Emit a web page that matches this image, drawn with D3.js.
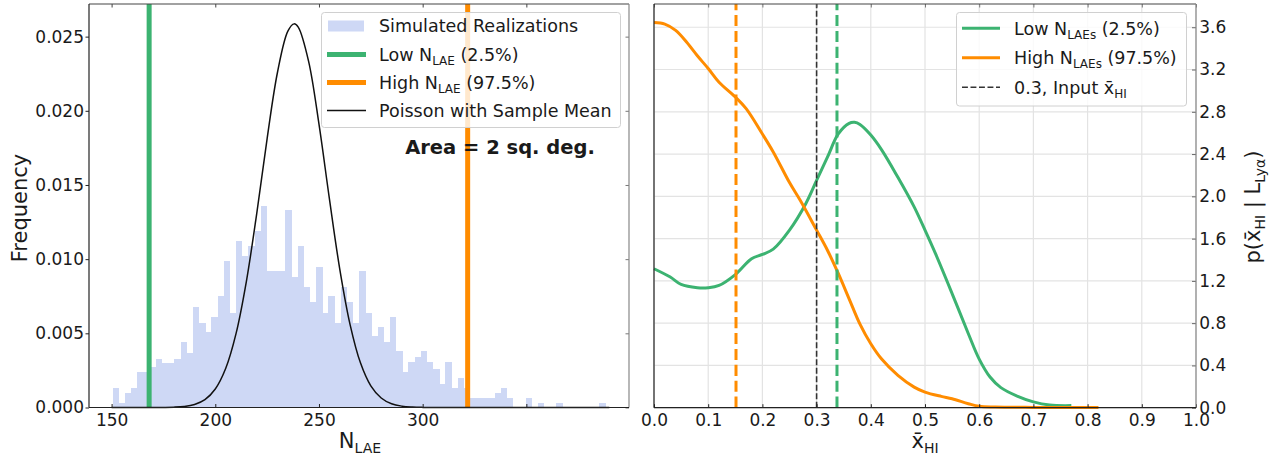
<!DOCTYPE html>
<html><head><meta charset="utf-8">
<script src="https://cdn.jsdelivr.net/npm/d3@7"></script>
<style>
body{margin:0;background:#fff}
svg{display:block}
text{font-family:"DejaVu Sans",sans-serif;fill:#1a1a1a}
</style>
</head><body>
<svg id="c" width="1270" height="458"></svg>
<script>
// ---------------- DATA ----------------
// Left panel: histogram of simulated N_LAE realizations (density)
const histBinStart = 150.6;
const histBinWidth = 2.97;
const histFreq = [0.0013,0.0003,0.0010,0.0013,0.0024,0.0024,0.0027,0.0033,0.0030,0.0030,
  0.0033,0.0044,0.0037,0.0068,0.0057,0.0051,0.0061,0.0075,0.0099,0.0064,
  0.0112,0.0102,0.0109,0.0119,0.0136,0.0092,0.0092,0.0092,0.0133,0.0088,
  0.0109,0.0081,0.0071,0.0095,0.0064,0.0075,0.0057,0.0081,0.0071,0.0057,
  0.0092,0.0064,0.0048,0.0054,0.0044,0.0061,0.0038,0.0024,0.0031,0.0034,
  0.0038,0.0031,0.0026,0.0016,0.0031,0.0013,0.0020,0.0013,0.00065,0.00065,
  0.00065,0.00065,0.0010,0.0013,0.00065,0,0,0.00065,0,0.0003,
  0,0,0.0003,0,0,0,0,0,0,0.0003];
// Poisson with sample mean
const poissonN = [150,160,170,175,180,185,190,195,200,205,210,215,220,225,230,235,238,240,245,250,255,260,265,270,275,280,285,290,295,300,310,320,340,360,390];
const poissonP = [0,0,0,0.000006,0.000022,0.000071,0.000205,0.00053,0.00125,0.00263,0.00498,0.00851,0.01309,0.01813,0.0226,0.02537,0.02586,0.02564,0.02333,0.0191,0.0141,0.00935,0.00559,0.00301,0.00146,0.00064,0.00025,0.00009,0.00003,0.000008,0,0,0,0,0];
const lowNLAE = 168.1;
const highNLAE = 321.7;
const leftXTicks = [150,200,250,300,350];
const leftXTickLabels = ["150","200","250","300",""];
const leftYTicks = [0,0.005,0.010,0.015,0.020,0.025];
const leftYTickLabels = ["0.000","0.005","0.010","0.015","0.020","0.025"];

// Right panel: posterior p(xHI | L_Lya)
const lowX = [0,0.03,0.05,0.08,0.10,0.12,0.15,0.18,0.20,0.22,0.25,0.28,0.30,0.32,0.34,0.36,0.37,0.38,0.40,0.42,0.45,0.48,0.50,0.52,0.55,0.58,0.60,0.62,0.64,0.67,0.70,0.73,0.77];
const lowP = [1.315,1.236,1.166,1.135,1.135,1.157,1.26,1.41,1.45,1.50,1.68,1.93,2.15,2.37,2.59,2.69,2.70,2.68,2.58,2.44,2.18,1.90,1.68,1.45,1.08,0.70,0.46,0.29,0.19,0.11,0.055,0.025,0.02];
const highX = [0,0.02,0.04,0.06,0.08,0.10,0.12,0.15,0.17,0.20,0.22,0.25,0.27,0.30,0.32,0.34,0.36,0.38,0.40,0.42,0.45,0.48,0.50,0.53,0.55,0.58,0.60,0.63,0.70,0.82];
const highP = [3.645,3.63,3.57,3.46,3.33,3.21,3.08,2.94,2.83,2.59,2.42,2.13,1.96,1.68,1.49,1.27,1.03,0.79,0.605,0.46,0.306,0.195,0.148,0.107,0.085,0.038,0.013,0.006,0.003,0.003];
const lowXHI = 0.3376;
const highXHI = 0.1513;
const inputXHI = 0.3;
const rightXTicks = [0,0.1,0.2,0.3,0.4,0.5,0.6,0.7,0.8,0.9,1.0];
const rightXTickLabels = ["0.0","0.1","0.2","0.3","0.4","0.5","0.6","0.7","0.8","0.9","1.0"];
const rightYTicks = [0,0.4,0.8,1.2,1.6,2.0,2.4,2.8,3.2,3.6];
const rightYTickLabels = ["0.0","0.4","0.8","1.2","1.6","2.0","2.4","2.8","3.2","3.6"];

// ---------------- STYLE ----------------
const GREEN = "#3cb371", ORANGE = "#ff8c00", HISTC = "#ced8f5";
const svg = d3.select("#c");

// text with subscripts; no empty tspans
function rich(sel, parts, base, subSize, shift){
  let pending = 0;
  parts.forEach(p=>{
    if (typeof p === "string") {
      const ts = sel.append("tspan").attr("font-size", base).text(p);
      if (pending) { ts.attr("dy", pending); pending = 0; }
    } else {
      sel.append("tspan").attr("font-size", subSize).attr("dy", shift + pending).text(p.sub);
      pending = -shift;
    }
  });
}

// ================= LEFT PANEL =================
const L = {x0:89, x1:629, y0:4, y1:407.5};
const xL = d3.scaleLinear().domain([139.1, 399.5]).range([L.x0, L.x1]);
const yL = d3.scaleLinear().domain([0, 0.0272]).range([L.y1, L.y0]);
const gL = svg.append("g");

// histogram
gL.append("g").selectAll("rect").data(histFreq).join("rect")
  .attr("x", (d,i)=>xL(histBinStart + i*histBinWidth))
  .attr("width", (d,i)=>xL(histBinStart+(i+1)*histBinWidth)-xL(histBinStart+i*histBinWidth)+0.3)
  .attr("y", d=>yL(d))
  .attr("height", d=>yL(0)-yL(d))
  .attr("fill", HISTC).attr("shape-rendering","crispEdges");

// vertical lines
gL.append("line").attr("x1",xL(lowNLAE)).attr("x2",xL(lowNLAE)).attr("y1",L.y0).attr("y2",L.y1)
  .attr("stroke",GREEN).attr("stroke-width",5);
gL.append("line").attr("x1",xL(highNLAE)).attr("x2",xL(highNLAE)).attr("y1",L.y0).attr("y2",L.y1)
  .attr("stroke",ORANGE).attr("stroke-width",5);

// poisson curve
const pts = poissonN.map((n,i)=>[n, poissonP[i]]);
gL.append("path").datum(pts)
  .attr("d", d3.line().x(d=>xL(d[0])).y(d=>yL(d[1])).curve(d3.curveCatmullRom.alpha(0.5)))
  .attr("fill","none").attr("stroke","#111").attr("stroke-width",1.5);

// axes
const axLB = d3.axisBottom(xL).tickValues(leftXTicks).tickFormat((d,i)=>leftXTickLabels[i]).tickSize(-3.5).tickPadding(6.5);
const axLT = d3.axisTop(xL).tickValues(leftXTicks).tickFormat("").tickSize(-3.5);
const axLL = d3.axisLeft(yL).tickValues(leftYTicks).tickFormat((d,i)=>leftYTickLabels[i]).tickSize(3.5).tickPadding(1.5);
const axLR = d3.axisRight(yL).tickValues(leftYTicks).tickFormat("").tickSize(-3.5);
function styleAxis(g, col){
  g.select(".domain").remove();
  g.selectAll("line").attr("stroke", col||"#222").attr("stroke-width",1);
  g.selectAll("text").filter(function(){ return this.textContent === ""; }).remove();
  g.selectAll("text").attr("font-size",17).attr("font-family","DejaVu Sans").attr("fill","#1a1a1a");
}
gL.append("g").attr("transform",`translate(0,${L.y1})`).call(axLB).call(g=>styleAxis(g));
gL.append("g").attr("transform",`translate(0,${L.y0})`).call(axLT).call(g=>styleAxis(g,"#444"));
gL.append("g").attr("transform",`translate(${L.x0},0)`).call(axLL).call(g=>styleAxis(g));
gL.append("g").attr("transform",`translate(${L.x1},0)`).call(axLR).call(g=>styleAxis(g,"#777"));

// frame
gL.append("line").attr("x1",L.x0).attr("x2",L.x1).attr("y1",L.y0).attr("y2",L.y0).attr("stroke","#444").attr("stroke-width",1.2);
gL.append("line").attr("x1",L.x1).attr("x2",L.x1).attr("y1",L.y0).attr("y2",L.y1).attr("stroke","#888").attr("stroke-width",1.2);
gL.append("line").attr("x1",L.x0).attr("x2",L.x0).attr("y1",L.y0).attr("y2",L.y1).attr("stroke","#222").attr("stroke-width",1.2);
gL.append("line").attr("x1",L.x0).attr("x2",L.x1).attr("y1",L.y1).attr("y2",L.y1).attr("stroke","#222").attr("stroke-width",1.2);

// axis labels
gL.append("text").attr("transform","translate(20,208) rotate(-90)").attr("text-anchor","middle")
  .attr("dy","0.35em").attr("font-size",21).text("Frequency");
{
  const t = gL.append("text").attr("x",360).attr("y",448).attr("text-anchor","middle").attr("font-size",21);
  rich(t, ["N",{sub:"LAE"}], 21, 14, 5);
}

// legend
{
  const lg = gL.append("g");
  lg.append("rect").attr("x",321.5).attr("y",12.5).attr("width",299).attr("height",115).attr("rx",3)
    .attr("fill","#fff").attr("fill-opacity",0.8).attr("stroke","#d0d0d0");
  const rows = [26, 54.5, 82.5, 110.5];
  lg.append("rect").attr("x",328).attr("y",rows[0]-5.5).attr("width",36).attr("height",11).attr("fill",HISTC);
  lg.append("line").attr("x1",327).attr("x2",366).attr("y1",rows[1]).attr("y2",rows[1]).attr("stroke",GREEN).attr("stroke-width",5);
  lg.append("line").attr("x1",327).attr("x2",366).attr("y1",rows[2]).attr("y2",rows[2]).attr("stroke",ORANGE).attr("stroke-width",5);
  lg.append("line").attr("x1",327).attr("x2",366).attr("y1",rows[3]).attr("y2",rows[3]).attr("stroke","#111").attr("stroke-width",1.5);
  const labels = [["Simulated Realizations"],["Low N",{sub:"LAE"}," (2.5%)"],["High N",{sub:"LAE"}," (97.5%)"],["Poisson with Sample Mean"]];
  labels.forEach((parts,i)=>{
    const t = lg.append("text").attr("x",379).attr("y",rows[i]+6.2).attr("font-size",17.5);
    rich(t, parts, 17.5, 12, 4);
  });
}
gL.append("text").attr("x",500).attr("y",154).attr("text-anchor","middle").attr("font-size",19.5)
  .attr("font-weight","bold").attr("fill","#000").text("Area = 2 sq. deg.");

// ================= RIGHT PANEL =================
const R = {x0:654, x1:1196, y0:4, y1:407.7};
const xR = d3.scaleLinear().domain([0,1]).range([R.x0, R.x1]);
const yR = d3.scaleLinear().domain([0,3.82]).range([R.y1, R.y0]);
const gR = svg.append("g");

// grid
gR.append("g").selectAll("line.gx").data(rightXTicks).join("line")
  .attr("x1",d=>xR(d)).attr("x2",d=>xR(d)).attr("y1",R.y0).attr("y2",R.y1)
  .attr("stroke","#e3e3e3").attr("stroke-width",1.2);
gR.append("g").selectAll("line.gy").data(rightYTicks).join("line")
  .attr("x1",R.x0).attr("x2",R.x1).attr("y1",d=>yR(d)).attr("y2",d=>yR(d))
  .attr("stroke","#e3e3e3").attr("stroke-width",1.2);

// curves
const lineR = d3.line().x(d=>xR(d[0])).y(d=>yR(d[1])).curve(d3.curveCatmullRom.alpha(0.5));
gR.append("path").datum(lowX.map((x,i)=>[x,lowP[i]])).attr("d",lineR)
  .attr("fill","none").attr("stroke",GREEN).attr("stroke-width",3);
gR.append("path").datum(highX.map((x,i)=>[x,highP[i]])).attr("d",lineR)
  .attr("fill","none").attr("stroke",ORANGE).attr("stroke-width",3);

// dashed vertical lines (drawn from bottom upward)
function vdash(x, col, w, dash){
  gR.append("line").attr("x1",xR(x)).attr("x2",xR(x)).attr("y1",R.y1).attr("y2",R.y0)
    .attr("stroke",col).attr("stroke-width",w).attr("stroke-dasharray",dash);
}
vdash(highXHI, ORANGE, 3, "11.1,4.8");
vdash(lowXHI, GREEN, 3, "11.1,4.8");
vdash(inputXHI, "#333", 1.6, "5.9,2.6");

// axes
const axRB = d3.axisBottom(xR).tickValues(rightXTicks).tickFormat((d,i)=>rightXTickLabels[i]).tickSize(-3.5).tickPadding(6.5);
const axRT = d3.axisTop(xR).tickValues(rightXTicks).tickFormat("").tickSize(-3.5);
const axRR = d3.axisRight(yR).tickValues(rightYTicks).tickFormat((d,i)=>rightYTickLabels[i]).tickSize(-4).tickPadding(3.3);
gR.append("g").attr("transform",`translate(0,${R.y1})`).call(axRB).call(g=>styleAxis(g));
gR.append("g").attr("transform",`translate(0,${R.y0})`).call(axRT).call(g=>styleAxis(g,"#777"));
gR.append("g").attr("transform",`translate(${R.x1},0)`).call(axRR).call(g=>styleAxis(g,"#666"));

// frame
gR.append("line").attr("x1",R.x0).attr("x2",R.x1).attr("y1",R.y0).attr("y2",R.y0).attr("stroke","#444").attr("stroke-width",1.2);
gR.append("line").attr("x1",R.x1).attr("x2",R.x1).attr("y1",R.y0).attr("y2",R.y1).attr("stroke","#888").attr("stroke-width",1.2);
gR.append("line").attr("x1",R.x0).attr("x2",R.x0).attr("y1",R.y0).attr("y2",R.y1).attr("stroke","#222").attr("stroke-width",1.2);
gR.append("line").attr("x1",R.x0).attr("x2",R.x1).attr("y1",R.y1).attr("y2",R.y1).attr("stroke","#222").attr("stroke-width",1.2);

// axis labels
{
  const t = gR.append("text").attr("x",925).attr("y",448).attr("text-anchor","middle").attr("font-size",21);
  rich(t, ["x\u0304",{sub:"HI"}], 21, 14, 5);
}
{
  const t = gR.append("text").attr("transform","translate(1253,207) rotate(-90)").attr("text-anchor","middle")
    .attr("dy","0.35em").attr("font-size",21);
  rich(t, ["p(x\u0304",{sub:"HI"}," | L",{sub:"Ly\u03b1"},")"], 21, 14, 5);
}

// legend
{
  const lg = gR.append("g");
  lg.append("rect").attr("x",956.5).attr("y",12.5).attr("width",230).attr("height",93.5).attr("rx",3)
    .attr("fill","#fff").attr("fill-opacity",0.8).attr("stroke","#d0d0d0");
  const rows = [28.3, 57.7, 87.3];
  lg.append("line").attr("x1",962).attr("x2",1000).attr("y1",rows[0]).attr("y2",rows[0]).attr("stroke",GREEN).attr("stroke-width",3);
  lg.append("line").attr("x1",962).attr("x2",1000).attr("y1",rows[1]).attr("y2",rows[1]).attr("stroke",ORANGE).attr("stroke-width",3);
  lg.append("line").attr("x1",962).attr("x2",1000).attr("y1",rows[2]).attr("y2",rows[2]).attr("stroke","#333").attr("stroke-width",1.6).attr("stroke-dasharray","5.9,2.6");
  const labels = [["Low N",{sub:"LAEs"}," (2.5%)"],["High N",{sub:"LAEs"}," (97.5%)"],["0.3, Input x\u0304",{sub:"HI"}]];
  labels.forEach((parts,i)=>{
    const t = lg.append("text").attr("x",1014).attr("y",rows[i]+6.5).attr("font-size",17.5);
    rich(t, parts, 17.5, 12, 4);
  });
}
</script>
</body></html>
